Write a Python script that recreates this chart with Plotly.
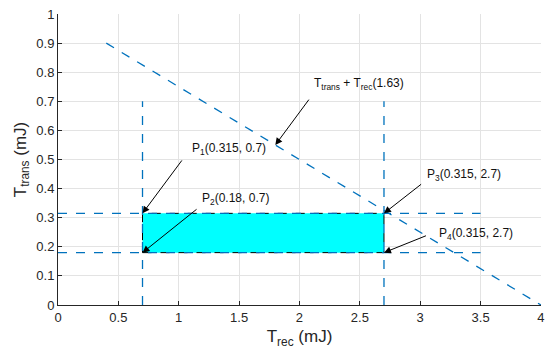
import plotly.graph_objects as go

# Data
diag_x = [0.4, 4.0]
diag_y = [0.9, 0.0]
vline_x = [0.7, 2.7]
vline_y = [0.0, 0.7]
hline_y = [0.315, 0.18]
hline_x = [0.0, 3.5]
rect_x = [0.7, 2.7, 2.7, 0.7, 0.7]
rect_y = [0.18, 0.18, 0.315, 0.315, 0.18]

# labels: (text, text_x, text_y, tail_x, tail_y, head_x, head_y)
labels = [
    ("T<sub>trans</sub> + T<sub>rec</sub>(1.63)", 2.13, 0.760, 2.087, 0.711, 1.80, 0.55),
    ("P<sub>1</sub>(0.315, 0.7)", 1.118, 0.536, 1.035, 0.502, 0.7, 0.315),
    ("P<sub>2</sub>(0.18, 0.7)", 1.20, 0.364, 1.16, 0.333, 0.7, 0.18),
    ("P<sub>3</sub>(0.315, 2.7)", 3.064, 0.447, 3.02, 0.419, 2.7, 0.315),
    ("P<sub>4</sub>(0.315, 2.7)", 3.16, 0.244, 3.06, 0.24, 2.7, 0.18),
]

xticks = [0, 0.5, 1, 1.5, 2, 2.5, 3, 3.5, 4]
yticks = [0, 0.1, 0.2, 0.3, 0.4, 0.5, 0.6, 0.7, 0.8, 0.9, 1]

blue = "#0072BD"
fig = go.Figure()

fig.add_trace(go.Scatter(x=rect_x, y=rect_y, mode="lines", fill="toself",
                         fillcolor="#00FFFF",
                         line=dict(color="black", width=1, dash="dash"),
                         showlegend=False, hoverinfo="skip"))
for vx in vline_x:
    fig.add_trace(go.Scatter(x=[vx, vx], y=vline_y, mode="lines",
                             line=dict(color=blue, width=1.3, dash="dash"),
                             showlegend=False))
for hy in hline_y:
    fig.add_trace(go.Scatter(x=hline_x, y=[hy, hy], mode="lines",
                             line=dict(color=blue, width=1.3, dash="dash"),
                             showlegend=False))
fig.add_trace(go.Scatter(x=diag_x, y=diag_y, mode="lines",
                         line=dict(color=blue, width=1.3, dash="dash"),
                         showlegend=False))

for text, tx, ty, ax, ay, hx, hy in labels:
    fig.add_annotation(x=hx, y=hy, ax=ax, ay=ay, xref="x", yref="y",
                       axref="x", ayref="y", text="", showarrow=True,
                       arrowhead=2, arrowsize=1.4, arrowwidth=1,
                       arrowcolor="black", standoff=0, startstandoff=0)
    fig.add_annotation(x=tx, y=ty, xref="x", yref="y", text=text,
                       showarrow=False, xanchor="left", yanchor="middle",
                       xshift=-3,
                       font=dict(size=12, color="#111111"))

axis_common = dict(showgrid=True, gridcolor="#e3e3e3", gridwidth=1,
                   showline=True, linecolor="#262626", linewidth=1,
                   ticks="inside", ticklen=4, tickcolor="#262626",
                   tickfont=dict(size=13, color="#262626"), zeroline=False,
                   mirror=False, automargin=False)

fig.update_xaxes(range=[0, 4.0005], tickvals=xticks,
                 ticktext=[f"{v:g}" for v in xticks],
                 title=dict(text="T<sub>rec</sub> (mJ)", font=dict(size=17, color="#262626"),
                            standoff=6),
                 **axis_common)
fig.update_yaxes(range=[0, 1.0002], tickvals=yticks,
                 ticktext=[f"{v:g}" for v in yticks],
                 title=dict(text="T<sub>trans</sub> (mJ)", font=dict(size=17, color="#262626"),
                            standoff=5),
                 **axis_common)

fig.update_layout(width=550, height=356,
                  margin=dict(l=58, r=9, t=14, b=51),
                  paper_bgcolor="white", plot_bgcolor="white",
                  font=dict(family="Liberation Sans, Arial, sans-serif"))

fig.write_html("out.html", config={"displayModeBar": False},
               post_script="document.body.style.margin='0';document.body.style.overflow='hidden';")
